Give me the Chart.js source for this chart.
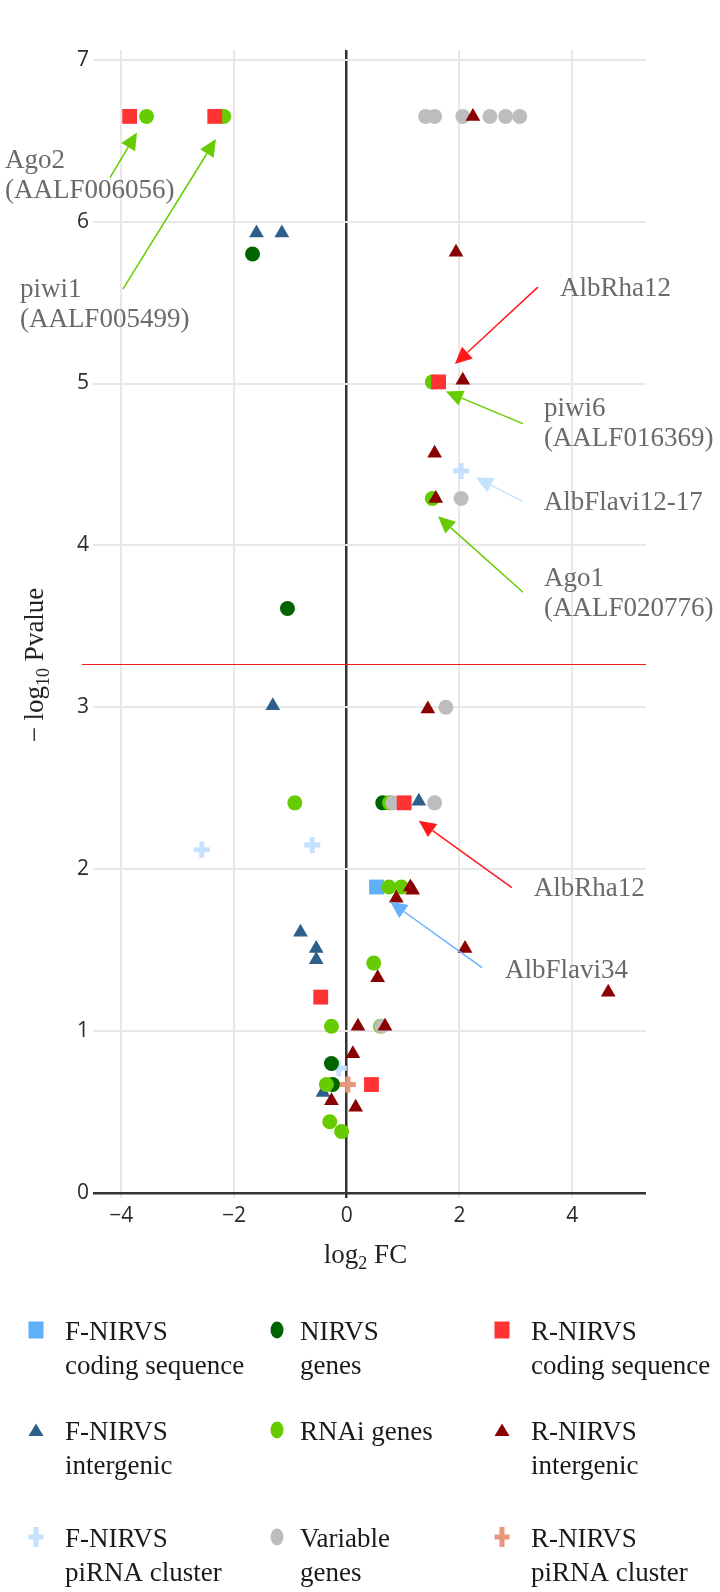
<!DOCTYPE html>
<html>
<head>
<meta charset="utf-8">
<script src="https://cdn.jsdelivr.net/npm/chart.js@4.4.1/dist/chart.umd.min.js"></script>
<style>
    html, body { margin: 0; padding: 0; background: #fff; }
    #wrap { width: 720px; height: 1592px; position: relative; }
</style>
</head>
<body>
<div id="wrap"><canvas id="volcano"></canvas></div>
<script>
// ==========================================
// DATA
// ==========================================
const xTicks = [-4, -2, 0, 2, 4];
const xTickLabels = ['\u22124', '\u22122', '0', '2', '4'];
const yTicks = [0, 1, 2, 3, 4, 5, 6, 7];
const yTickLabels = ['0', '1', '2', '3', '4', '5', '6', '7'];
const xRange = [-4.5, 5.31];
const yRange = [0, 7.06];
const pThreshold = 3.27;

// [log2 FC, -log10 Pvalue]
const fCoding = [[0.53, 1.89]];
const nirvsGenes = [[-1.67, 5.80], [-1.05, 3.61], [0.64, 2.41], [-0.27, 0.80], [-0.25, 0.67]];
const rCoding = [[-3.85, 6.65], [-2.34, 6.65], [1.63, 5.01], [1.02, 2.41], [-0.46, 1.21], [0.44, 0.67]];
const fInter = [[-1.60, 5.93], [-1.15, 5.93], [-1.31, 3.01], [1.28, 2.42], [-0.82, 1.61],
                [-0.54, 1.51], [-0.54, 1.44], [-0.42, 0.62]];
const rnaiGenes = [[-3.55, 6.65], [-2.18, 6.65], [1.52, 5.01], [1.52, 4.29], [-0.92, 2.41],
                   [0.76, 2.41], [0.75, 1.89], [0.97, 1.89], [0.48, 1.42], [-0.27, 1.03],
                   [0.60, 1.03], [-0.36, 0.67], [-0.30, 0.44], [-0.09, 0.38]];
const rInter = [[2.24, 6.65], [1.94, 5.81], [2.06, 5.02], [1.56, 4.57], [1.58, 4.29],
                [1.44, 2.99], [1.13, 1.89], [1.17, 1.87], [0.88, 1.82], [2.10, 1.51],
                [0.55, 1.33], [4.64, 1.24], [0.20, 1.03], [0.68, 1.03], [0.11, 0.86],
                [-0.27, 0.57], [0.16, 0.53]];
const fPirna = [[2.03, 4.46], [-2.57, 2.12], [-0.61, 2.15], [-0.14, 0.77]];
const variableGenes = [[1.40, 6.65], [1.56, 6.65], [2.06, 6.65], [2.54, 6.65], [2.82, 6.65],
                       [3.07, 6.65], [2.03, 4.29], [1.76, 3.00], [0.82, 2.41], [1.56, 2.41],
                       [0.62, 1.03]];
const rPirna = [[0.02, 0.67]];

// annotated genes: label lines + the point the arrow aims at (data coords)
const annotLabels = [
    ['Ago2', '(AALF006056)'],
    ['piwi1', '(AALF005499)'],
    ['AlbRha12'],
    ['piwi6', '(AALF016369)'],
    ['AlbFlavi12-17'],
    ['Ago1', '(AALF020776)'],
    ['AlbRha12'],
    ['AlbFlavi34']
];
const annotTips = [[-3.72, 6.55], [-2.32, 6.51], [1.92, 5.12], [1.76, 4.95],
                   [2.29, 4.42], [1.62, 4.18], [1.28, 2.30], [0.77, 1.80]];

// ==========================================
// STYLES
// ==========================================
// arrow tail and text offsets in px from the tip
const annotStyle = [
    { ax: -27, ay: 45,  tx: -132, ty: 35,  color: '#66cc00' },
    { ax: -93, ay: 150, tx: -196, ty: 158, color: '#66cc00' },
    { ax: 83,  ay: -77, tx: 105,  ty: -68, color: '#ff1a1a' },
    { ax: 77,  ay: 32,  tx: 98,   ty: 24,  color: '#66cc00' },
    { ax: 47,  ay: 24,  tx: 68,   ty: 33,  color: '#c6e2ff' },
    { ax: 85,  ay: 76,  tx: 106,  ty: 70,  color: '#66cc00' },
    { ax: 93,  ay: 67,  tx: 115,  ty: 75,  color: '#ff1a1a' },
    { ax: 92,  ay: 66,  tx: 115,  ty: 76,  color: '#66b2ff' }
];

const series = {
    fCoding:       { data: fCoding,       label: ['F-NIRVS', 'coding sequence'], color: '#5eb1f7', shape: 'rect' },
    nirvsGenes:    { data: nirvsGenes,    label: ['NIRVS', 'genes'],             color: '#006400', shape: 'circle' },
    rCoding:       { data: rCoding,       label: ['R-NIRVS', 'coding sequence'], color: '#ff3333', shape: 'rect' },
    fInter:        { data: fInter,        label: ['F-NIRVS', 'intergenic'],      color: '#2e5e8a', shape: 'triangle' },
    rnaiGenes:     { data: rnaiGenes,     label: ['RNAi genes'],                 color: '#66cc00', shape: 'circle' },
    rInter:        { data: rInter,        label: ['R-NIRVS', 'intergenic'],      color: '#8b0000', shape: 'triangle' },
    fPirna:        { data: fPirna,        label: ['F-NIRVS', 'piRNA cluster'],   color: '#c6e0ff', shape: 'cross' },
    variableGenes: { data: variableGenes, label: ['Variable', 'genes'],          color: '#bdbdbd', shape: 'circle' },
    rPirna:        { data: rPirna,        label: ['R-NIRVS', 'piRNA cluster'],   color: '#e9967a', shape: 'cross' }
};
const legendOrder = ['fCoding', 'nirvsGenes', 'rCoding', 'fInter', 'rnaiGenes', 'rInter',
                     'fPirna', 'variableGenes', 'rPirna'];
// bottom to top
const drawOrder = ['fPirna', 'fInter', 'fCoding', 'nirvsGenes', 'rnaiGenes', 'variableGenes',
                   'rCoding', 'rInter', 'rPirna'];

const pointSize = { circle: 7.5, rect: 10.5, triangle: 8.5, cross: 8 };
const serif = '"Liberation Serif", "Times New Roman", serif';

const datasets = drawOrder.map((key, i) => {
    const s = series[key];
    const isCross = s.shape === 'cross';
    return {
        label: s.label.join(' '),
        data: s.data.map(p => ({ x: p[0], y: p[1] })),
        pointStyle: s.shape,
        pointRadius: pointSize[s.shape],
        pointHoverRadius: pointSize[s.shape],
        backgroundColor: s.color,
        borderColor: s.color,
        borderWidth: isCross ? 5 : 0,
        order: drawOrder.length - i
    };
});

// ==========================================
// DRAW HELPERS
// ==========================================
function drawArrow(ctx, x0, y0, x1, y1, color) {
    const ang = Math.atan2(y1 - y0, x1 - x0);
    const head = 17, half = 8;
    const bx = x1 - Math.cos(ang) * head, by = y1 - Math.sin(ang) * head;
    ctx.strokeStyle = color;
    ctx.fillStyle = color;
    ctx.lineWidth = 1.5;
    ctx.beginPath();
    ctx.moveTo(x0, y0);
    ctx.lineTo(bx, by);
    ctx.stroke();
    ctx.beginPath();
    ctx.moveTo(x1, y1);
    ctx.lineTo(bx + Math.sin(ang) * half, by - Math.cos(ang) * half);
    ctx.lineTo(bx - Math.sin(ang) * half, by + Math.cos(ang) * half);
    ctx.closePath();
    ctx.fill();
}

// text with a subscript part, centred on x
function drawSubText(ctx, parts, x, y) {
    let total = 0;
    parts.forEach(p => { ctx.font = p.size + 'px ' + serif; total += ctx.measureText(p.t).width; });
    let cx = x - total / 2;
    ctx.textAlign = 'left';
    ctx.textBaseline = 'alphabetic';
    parts.forEach(p => {
        ctx.font = p.size + 'px ' + serif;
        ctx.fillText(p.t, cx, y + (p.dy || 0));
        cx += ctx.measureText(p.t).width;
    });
}

function drawLegendSymbol(ctx, shape, color, cx, cy) {
    ctx.fillStyle = color;
    ctx.beginPath();
    if (shape === 'rect') {
        ctx.rect(cx - 7.5, cy - 8.5, 15, 17);
    } else if (shape === 'circle') {
        ctx.ellipse(cx, cy, 6.5, 8.5, 0, 0, Math.PI * 2);
    } else if (shape === 'triangle') {
        ctx.moveTo(cx, cy - 6.5);
        ctx.lineTo(cx + 7.5, cy + 6);
        ctx.lineTo(cx - 7.5, cy + 6);
        ctx.closePath();
    } else if (shape === 'cross') {
        ctx.rect(cx - 2.5, cy - 10, 5, 20);
        ctx.rect(cx - 7.5, cy - 2.5, 15, 5);
    }
    ctx.fill();
}

const overlayPlugin = {
    id: 'overlay',
    beforeDatasetsDraw(chart) {
        const ctx = chart.ctx;
        const ys = chart.scales.y;
        const y = Math.round(ys.getPixelForValue(pThreshold)) + 0.5;
        ctx.save();
        ctx.strokeStyle = '#ee1c1c';
        ctx.lineWidth = 1.2;
        ctx.beginPath();
        ctx.moveTo(chart.chartArea.left - 11, y);
        ctx.lineTo(chart.chartArea.right, y);
        ctx.stroke();
        ctx.restore();
    },
    afterDatasetsDraw(chart) {
        const ctx = chart.ctx;
        const xs = chart.scales.x, ys = chart.scales.y;
        ctx.save();
        annotTips.forEach((tip, i) => {
            const st = annotStyle[i];
            const px = xs.getPixelForValue(tip[0]);
            const py = ys.getPixelForValue(tip[1]);
            drawArrow(ctx, px + st.ax, py + st.ay, px, py, st.color);
            ctx.fillStyle = '#6a6a6a';
            ctx.font = '27px ' + serif;
            ctx.textAlign = 'left';
            ctx.textBaseline = 'alphabetic';
            annotLabels[i].forEach((line, j) => {
                ctx.fillText(line, px + st.tx, py + st.ty + j * 30);
            });
        });
        ctx.restore();
    },
    afterDraw(chart) {
        const ctx = chart.ctx;
        const area = chart.chartArea;
        ctx.save();
        ctx.fillStyle = '#222';
        // axis titles
        drawSubText(ctx, [{ t: 'log', size: 27 }, { t: '2', size: 18, dy: 6 }, { t: ' FC', size: 27 }],
            (area.left + area.right) / 2 - 4, area.bottom + 70);
        ctx.save();
        ctx.translate(43, 665);
        ctx.rotate(-Math.PI / 2);
        drawSubText(ctx, [{ t: '\u2212 log', size: 27 }, { t: '10', size: 18, dy: 6 }, { t: ' Pvalue', size: 27 }], 0, 0);
        ctx.restore();

        // legend, 3 x 3
        const symX = [36, 277, 502], textX = [65, 300, 531];
        const rowY = [1340, 1440, 1547];
        legendOrder.forEach((key, i) => {
            const s = series[key];
            const col = i % 3, row = Math.floor(i / 3);
            drawLegendSymbol(ctx, s.shape, s.color, symX[col], rowY[row] - 10);
            ctx.fillStyle = '#1a1a1a';
            ctx.font = '27px ' + serif;
            ctx.textAlign = 'left';
            ctx.textBaseline = 'alphabetic';
            s.label.forEach((line, j) => {
                ctx.fillText(line, textX[col], rowY[row] + j * 34);
            });
        });
        ctx.restore();
    }
};

// ==========================================
// CHART
// ==========================================
const zeroOr = (a, b) => (c) => (c.tick && c.tick.value === 0 ? a : b);

new Chart(document.getElementById('volcano'), {
    type: 'scatter',
    data: { datasets: datasets },
    options: {
        responsive: true,
        maintainAspectRatio: false,
        animation: false,
        layout: { padding: { top: 50, right: 74, left: 0, bottom: 0 } },
        plugins: { legend: { display: false }, tooltip: { enabled: false } },
        scales: {
            x: {
                min: xRange[0],
                max: xRange[1],
                afterBuildTicks: (scale) => { scale.ticks = xTicks.map(v => ({ value: v })); },
                afterFit: (scale) => { scale.height = 399; },
                ticks: {
                    padding: 5,
                    color: '#2b2b2b',
                    font: { family: '"Open Sans"', size: 21 },
                    callback: (v) => xTickLabels[xTicks.indexOf(v)]
                },
                grid: {
                    color: zeroOr('#333', '#e8e8e8'),
                    lineWidth: zeroOr(2.5, 2),
                    tickLength: 5
                },
                border: { display: false }
            },
            y: {
                min: yRange[0],
                max: yRange[1],
                afterBuildTicks: (scale) => { scale.ticks = yTicks.map(v => ({ value: v })); },
                afterFit: (scale) => { scale.width = 93; },
                ticks: {
                    padding: 4,
                    color: '#2b2b2b',
                    font: { family: '"Open Sans"', size: 21 },
                    callback: (v) => yTickLabels[yTicks.indexOf(v)]
                },
                grid: {
                    color: zeroOr('#333', '#e8e8e8'),
                    lineWidth: zeroOr(2.5, 2),
                    drawTicks: false
                },
                border: { display: false }
            }
        }
    },
    plugins: [overlayPlugin]
});
</script>
</body>
</html>
